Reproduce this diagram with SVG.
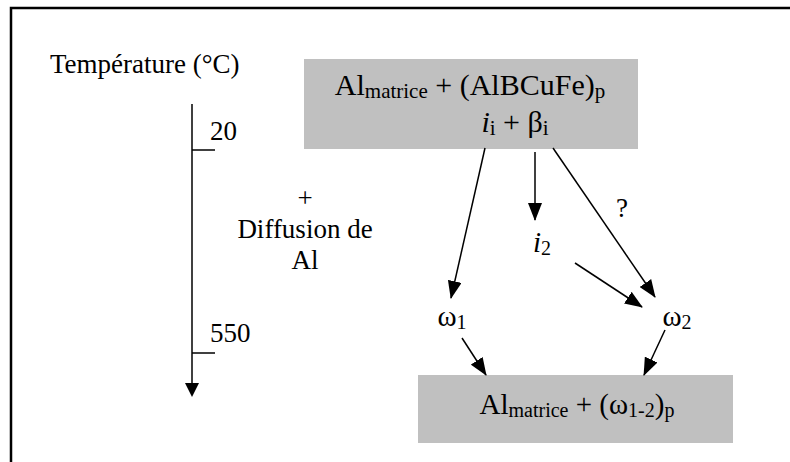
<svg xmlns="http://www.w3.org/2000/svg" width="790" height="462" viewBox="0 0 790 462">
<defs>
<style>
text{font-family:"Liberation Serif","Times New Roman",serif;fill:#000}
.t{font-size:27px}
.big{font-size:30px}
.sub{font-size:21px}
.mid{font-size:29px}
.msub{font-size:20px}
.box{fill:#c0c0c0}
.ln{stroke:#000;stroke-width:1.5;fill:none}
</style>
<marker id="ah" markerWidth="18" markerHeight="14" refX="17" refY="7" orient="auto" markerUnits="userSpaceOnUse" viewBox="0 0 18 14">
<path d="M0,0 L18,7 L0,14 z" fill="#000"/>
</marker>
</defs>
<rect x="0" y="0" width="790" height="462" fill="#fff"/>
<path d="M11,470 V8 H800" stroke="#000" stroke-width="2.5" fill="none"/>

<g id="axis">
<text class="t" x="50" y="73">Température (°C)</text>
<line class="ln" x1="192" y1="104" x2="192" y2="384"/>
<path d="M185,383 L199,383 L192,397 z" fill="#000"/>
<line class="ln" x1="192" y1="150" x2="215" y2="150"/>
<line class="ln" x1="192" y1="353" x2="215" y2="353"/>
<text class="t" x="210" y="140">20</text>
<text class="t" x="210" y="342">550</text>
</g>

<g id="note">
<text class="t" x="305" y="207" text-anchor="middle">+</text>
<text class="t" x="305" y="238" text-anchor="middle">Diffusion de</text>
<text class="t" x="305" y="269" text-anchor="middle">Al</text>
</g>

<g id="start">
<rect class="box" x="304" y="59" width="334" height="90"/>
<text class="big" x="470" y="95" text-anchor="middle">Al<tspan class="sub" dy="3">matrice</tspan><tspan dy="-3"> + (AlBCuFe)</tspan><tspan class="sub" dy="3">p</tspan></text>
<text class="big" x="515" y="132" text-anchor="middle"><tspan font-style="italic">i</tspan><tspan class="sub" dy="3">i</tspan><tspan dy="-3"> + β</tspan><tspan class="sub" dy="3">i</tspan></text>
</g>

<g id="i2">
<text class="mid" x="542" y="252" text-anchor="middle"><tspan font-style="italic">i</tspan><tspan class="msub" dy="3">2</tspan></text>
</g>
<g id="q">
<text class="t" x="622" y="217" text-anchor="middle">?</text>
</g>
<g id="w1">
<text class="mid" x="452" y="326" text-anchor="middle">ω<tspan class="msub" dy="3">1</tspan></text>
</g>
<g id="w2">
<text class="mid" x="677" y="326" text-anchor="middle">ω<tspan class="msub" dy="3">2</tspan></text>
</g>

<g id="end">
<rect class="box" x="418" y="375" width="315" height="68"/>
<text class="mid" x="577" y="414" text-anchor="middle">Al<tspan class="msub" dy="3">matrice</tspan><tspan dy="-3"> + (ω</tspan><tspan class="msub" dy="3">1-2</tspan><tspan dy="-3">)</tspan><tspan class="msub" dy="3">p</tspan></text>
</g>

<g id="connectors">
<line class="ln" x1="485" y1="148" x2="451" y2="298" marker-end="url(#ah)"/>
<line class="ln" x1="535" y1="152" x2="535" y2="220" marker-end="url(#ah)"/>
<line class="ln" x1="553" y1="148" x2="655" y2="297" marker-end="url(#ah)"/>
<line class="ln" x1="575" y1="263" x2="642" y2="307" marker-end="url(#ah)"/>
<line class="ln" x1="462" y1="338" x2="486" y2="375" marker-end="url(#ah)"/>
<line class="ln" x1="665" y1="330" x2="644" y2="375" marker-end="url(#ah)"/>
</g>
</svg>
